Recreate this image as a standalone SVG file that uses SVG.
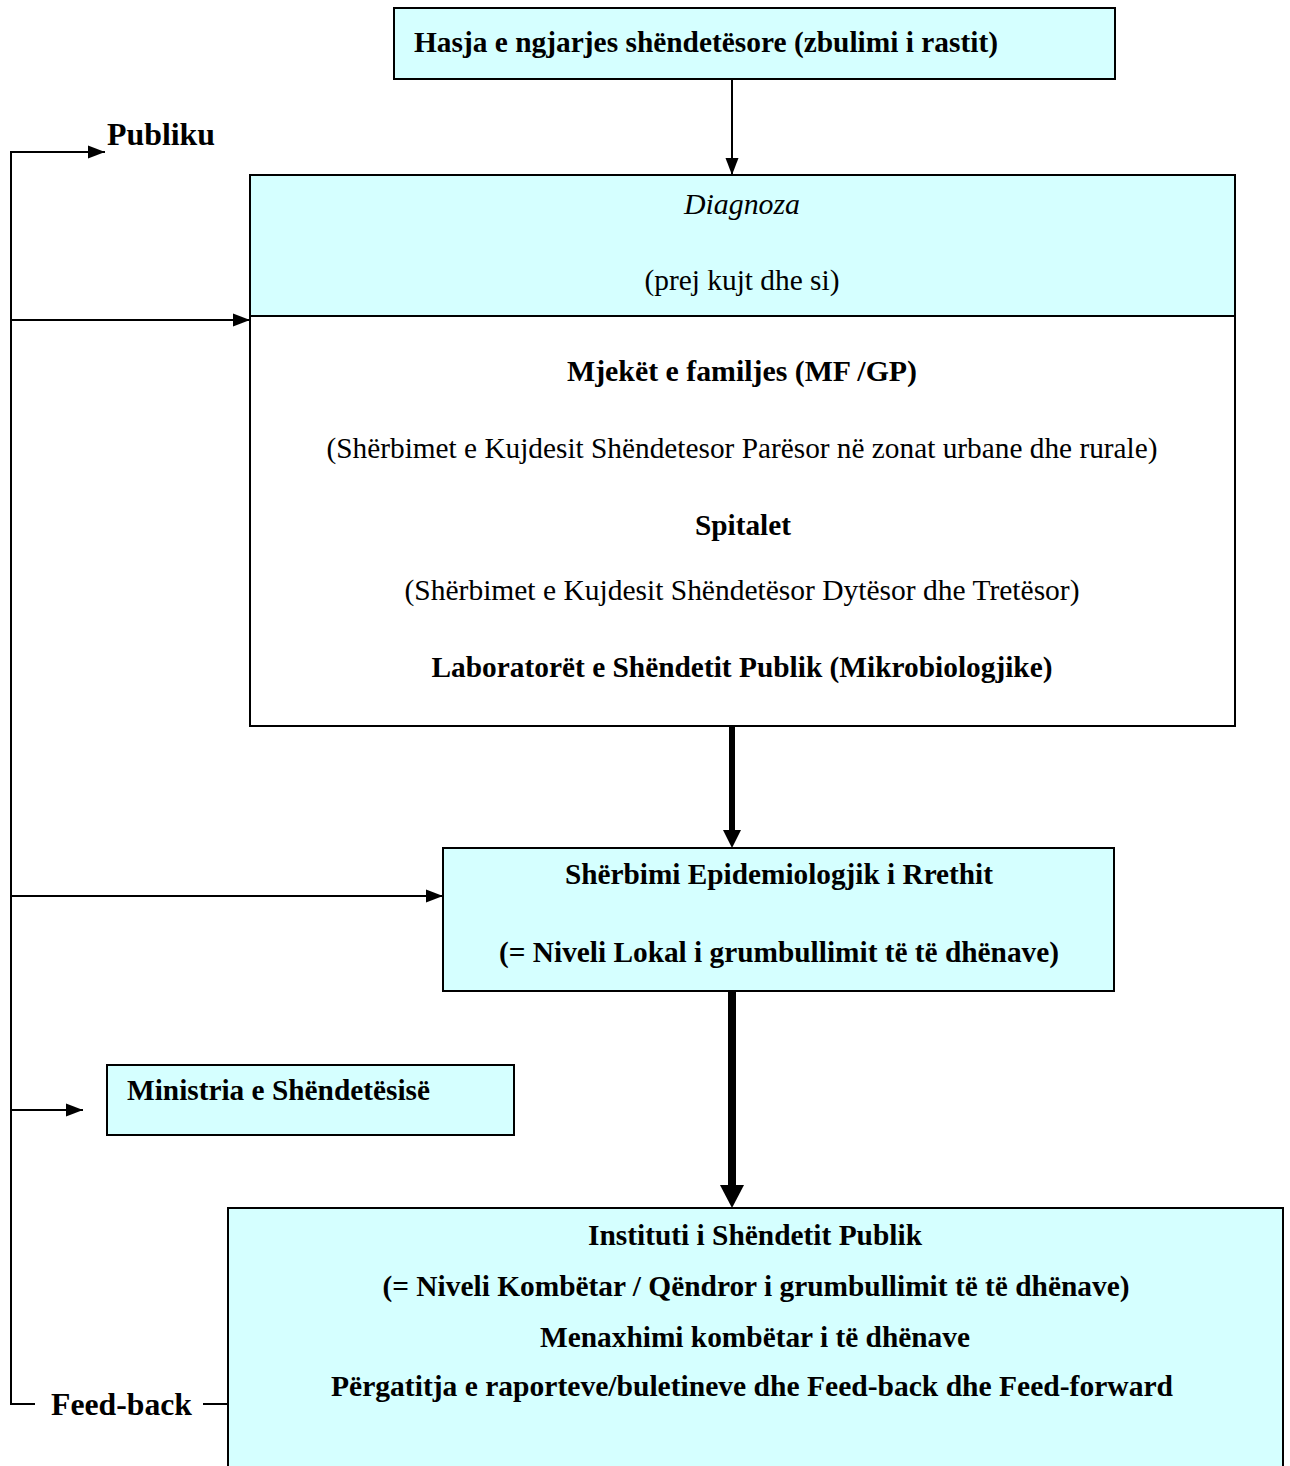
<svg xmlns="http://www.w3.org/2000/svg" width="1290" height="1466" viewBox="0 0 1290 1466">
<defs>
<style>
.box{fill:#d5ffff;stroke:#000;stroke-width:2}
.wbox{fill:#fff;stroke:#000;stroke-width:2}
.ln{fill:none;stroke:#000;stroke-width:2}
.t{font-family:"Liberation Serif","Times New Roman",serif;font-size:30px;fill:#000}
.b{font-weight:bold}
.c{text-anchor:middle}
</style>
<marker id="ah" markerUnits="userSpaceOnUse" markerWidth="18" markerHeight="16" refX="17" refY="8" orient="auto">
<path d="M0,1.5 L17,8 L0,14.5 Z" fill="#000"/>
</marker>
</defs>
<rect width="1290" height="1466" fill="#fff"/>

<g id="connectors">
<line class="ln" x1="732" y1="79" x2="732" y2="175" marker-end="url(#ah)"/>
<polyline class="ln" points="11,1404 11,152 105,152" marker-end="url(#ah)"/>
<line class="ln" x1="11" y1="320" x2="250" y2="320" marker-end="url(#ah)"/>
<line class="ln" x1="11" y1="896" x2="443" y2="896" marker-end="url(#ah)"/>
<line class="ln" x1="11" y1="1110" x2="83" y2="1110" marker-end="url(#ah)"/>
<line class="ln" x1="10" y1="1404" x2="35" y2="1404"/>
<line class="ln" x1="203" y1="1404" x2="228" y2="1404"/>
<line x1="732" y1="726" x2="732" y2="832" stroke="#000" stroke-width="6"/>
<polygon points="723,830 741,830 732,848" fill="#000"/>
<line x1="732" y1="991" x2="732" y2="1186" stroke="#000" stroke-width="8"/>
<polygon points="720,1185 744,1185 732,1208" fill="#000"/>
<text class="t b" x="51" y="1415" textLength="141" lengthAdjust="spacingAndGlyphs" style="font-size:32px">Feed-back</text>
<text class="t b" x="107" y="145" textLength="108" lengthAdjust="spacingAndGlyphs" style="font-size:32px">Publiku</text>
</g>

<g id="node-hasja">
<rect class="box" x="394" y="8" width="721" height="71"/>
<text class="t b" x="414" y="52" textLength="584" lengthAdjust="spacingAndGlyphs">Hasja e ngjarjes shëndetësore (zbulimi i rastit)</text>
</g>

<g id="node-diagnoza">
<rect class="box" x="250" y="175" width="985" height="141"/>
<rect class="wbox" x="250" y="316" width="985" height="410"/>
<text class="t c" x="742" y="214" font-style="italic" textLength="116" lengthAdjust="spacingAndGlyphs">Diagnoza</text>
<text class="t c" x="742" y="290" textLength="195" lengthAdjust="spacingAndGlyphs">(prej kujt dhe si)</text>
<text class="t b c" x="742" y="381" textLength="350" lengthAdjust="spacingAndGlyphs">Mjekët e familjes  (MF /GP)</text>
<text class="t c" x="742" y="458" textLength="831" lengthAdjust="spacingAndGlyphs">(Shërbimet e Kujdesit Shëndetesor Parësor në zonat urbane dhe rurale)</text>
<text class="t b c" x="743" y="535" textLength="96" lengthAdjust="spacingAndGlyphs">Spitalet</text>
<text class="t c" x="742" y="600" textLength="675" lengthAdjust="spacingAndGlyphs">(Shërbimet e Kujdesit Shëndetësor Dytësor dhe Tretësor)</text>
<text class="t b c" x="742" y="677" textLength="621" lengthAdjust="spacingAndGlyphs">Laboratorët e Shëndetit Publik (Mikrobiologjike)</text>
</g>

<g id="node-sherbimi">
<rect class="box" x="443" y="848" width="671" height="143"/>
<text class="t b c" x="779" y="884" textLength="428" lengthAdjust="spacingAndGlyphs">Shërbimi Epidemiologjik i Rrethit</text>
<text class="t b c" x="779" y="962" textLength="560" lengthAdjust="spacingAndGlyphs">(= Niveli Lokal i grumbullimit të të dhënave)</text>
</g>

<g id="node-ministria">
<rect class="box" x="107" y="1065" width="407" height="70"/>
<text class="t b" x="127" y="1100" textLength="303" lengthAdjust="spacingAndGlyphs">Ministria e Shëndetësisë</text>
</g>

<g id="node-instituti">
<rect class="box" x="228" y="1208" width="1055" height="280"/>
<text class="t b c" x="755" y="1245" textLength="334" lengthAdjust="spacingAndGlyphs">Instituti i Shëndetit Publik</text>
<text class="t b c" x="756" y="1296" textLength="747" lengthAdjust="spacingAndGlyphs">(= Niveli Kombëtar / Qëndror i grumbullimit të të dhënave)</text>
<text class="t b c" x="755" y="1347" textLength="430" lengthAdjust="spacingAndGlyphs">Menaxhimi kombëtar i të dhënave</text>
<text class="t b c" x="752" y="1396" textLength="842" lengthAdjust="spacingAndGlyphs">Përgatitja e raporteve/buletineve dhe Feed-back dhe Feed-forward</text>
</g>
</svg>
